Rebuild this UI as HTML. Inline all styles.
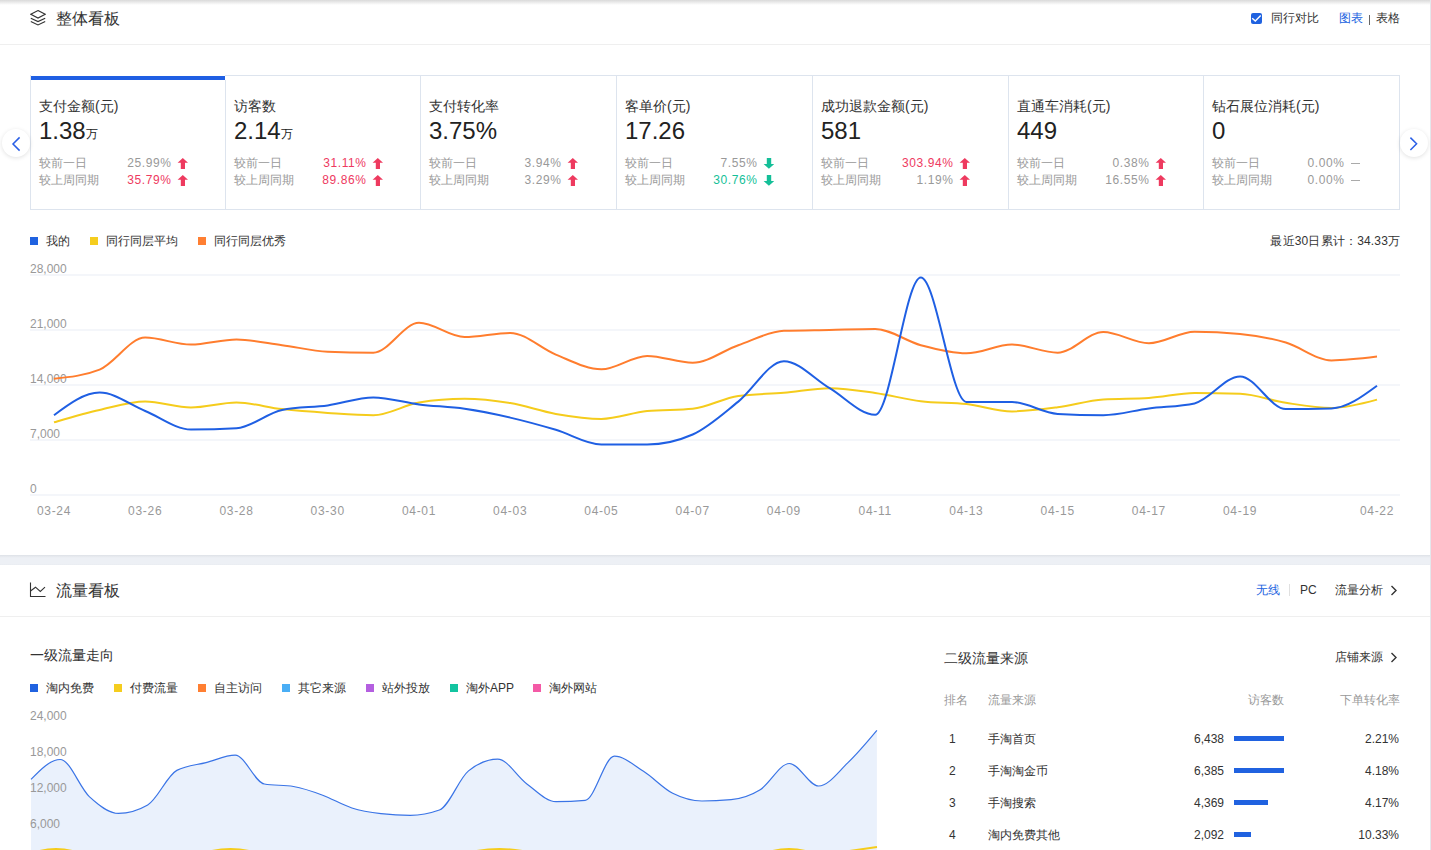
<!DOCTYPE html>
<html><head><meta charset="utf-8">
<style>
*{margin:0;padding:0;box-sizing:border-box}
html,body{width:1431px;height:850px;overflow:hidden;background:#fff;font-family:"Liberation Sans",sans-serif;color:#333;position:relative}
.a{position:absolute;white-space:nowrap}
.t12{font-size:12px;line-height:12px}
.t14{font-size:14px;line-height:14px}
.t16{font-size:16px;line-height:16px}
.gray{color:#999}
.blue{color:#2062e0}
.hline{position:absolute;left:0;width:1430px;height:1px;background:#efefef}
.card{position:absolute;top:75px;height:135px;width:195px}
.card .ttl{position:absolute;left:9px;top:24px;font-size:14px;line-height:14px;color:#333}
.card .val{position:absolute;left:9px;top:44px;font-size:24px;line-height:24px;color:#222}
.card .val span{font-size:12px;position:relative;top:-1.5px;margin-left:0px}
.card .r1,.card .r2{position:absolute;left:9px;font-size:12px;line-height:12px;color:#999}
.card .r1{top:82px}.card .r2{top:99px}
.card .p1,.card .p2{position:absolute;left:0;width:141.6px;letter-spacing:0.6px;font-size:12px;line-height:12px;color:#999;text-align:right}
.card .p1{top:82px}.card .p2{top:99px}
.red{color:#ee3a5f!important}
.grn{color:#14bf98!important}
.arr{position:absolute;left:147px;width:11px;height:11px}
.leg{position:absolute;width:8px;height:8px}
.circ{position:absolute;width:28px;height:28px;border-radius:50%;background:#fff;box-shadow:0 1px 4px rgba(0,0,0,0.12)}
</style></head><body>
<!-- top shadow -->
<div class="a" style="left:0;top:0;width:1431px;height:5px;background:linear-gradient(#dadada,rgba(255,255,255,0))"></div>
<!-- right edge line -->
<div class="a" style="left:1430px;top:0;width:1px;height:850px;background:#e4e7ec"></div>

<!-- ===== Section 1 header ===== -->
<svg class="a" style="left:30px;top:10px" width="16" height="16" viewBox="0 0 16 16" fill="none" stroke="#333" stroke-width="1.15">
<path d="M8 0.6 L15.2 4.3 L8 8 L0.8 4.3 Z"/><path d="M0.8 8.2 L8 11.6 L15.2 8.2"/><path d="M0.8 11.4 L8 14.9 L15.2 11.4"/>
</svg>
<div class="a t16" style="left:56px;top:11px;color:#333">整体看板</div>
<div class="a" style="left:1251px;top:13px;width:11px;height:11px;background:#2062e0;border-radius:2px">
<svg width="11" height="11" viewBox="0 0 11 11" style="display:block"><path d="M1.2 5.2 L4.3 8.1 L9.7 2.6" fill="none" stroke="#fff" stroke-width="1.4"/></svg></div>
<div class="a t12" style="left:1271px;top:12px">同行对比</div>
<div class="a t12 blue" style="left:1339px;top:12px">图表</div>
<div class="a" style="left:1369px;top:15px;width:1px;height:10px;background:#666"></div>
<div class="a t12" style="left:1376px;top:12px">表格</div>
<div class="hline" style="top:44px"></div>

<!-- ===== KPI cards ===== -->
<div class="a" style="left:30px;top:75px;width:1370px;height:135px;border:1px solid #dde4ee"></div>
<div class="a" style="left:31px;top:75px;width:194px;height:5px;background:#fff"></div>
<div class="a" style="left:31px;top:76px;width:194px;height:4px;background:#1f5fe3"></div>
<div class="a" style="left:225px;top:80px;width:1px;height:130px;background:#dde4ee"></div>
<div class="a" style="left:420px;top:75px;width:1px;height:135px;background:#dde4ee"></div>
<div class="a" style="left:616px;top:75px;width:1px;height:135px;background:#dde4ee"></div>
<div class="a" style="left:812px;top:75px;width:1px;height:135px;background:#dde4ee"></div>
<div class="a" style="left:1008px;top:75px;width:1px;height:135px;background:#dde4ee"></div>
<div class="a" style="left:1203px;top:75px;width:1px;height:135px;background:#dde4ee"></div>
<div class="card" style="left:30px"><div class="ttl">支付金额(元)</div><div class="val">1.38<span>万</span></div><div class="r1">较前一日</div><div class="r2">较上周同期</div><div class="p1 ">25.99%</div><div class="p2 red">35.79%</div><svg class="arr" style="top:83px" viewBox="0 0 11 11"><path d="M5.8 0 L11 4.7 L8 4.7 L8 11 L3.8 11 L3.8 4.7 L0.6 4.7 Z" fill="#ee3a5f"/></svg><svg class="arr" style="top:100px" viewBox="0 0 11 11"><path d="M5.8 0 L11 4.7 L8 4.7 L8 11 L3.8 11 L3.8 4.7 L0.6 4.7 Z" fill="#ee3a5f"/></svg></div>
<div class="card" style="left:225px"><div class="ttl">访客数</div><div class="val">2.14<span>万</span></div><div class="r1">较前一日</div><div class="r2">较上周同期</div><div class="p1 red">31.11%</div><div class="p2 red">89.86%</div><svg class="arr" style="top:83px" viewBox="0 0 11 11"><path d="M5.8 0 L11 4.7 L8 4.7 L8 11 L3.8 11 L3.8 4.7 L0.6 4.7 Z" fill="#ee3a5f"/></svg><svg class="arr" style="top:100px" viewBox="0 0 11 11"><path d="M5.8 0 L11 4.7 L8 4.7 L8 11 L3.8 11 L3.8 4.7 L0.6 4.7 Z" fill="#ee3a5f"/></svg></div>
<div class="card" style="left:420px"><div class="ttl">支付转化率</div><div class="val">3.75%</div><div class="r1">较前一日</div><div class="r2">较上周同期</div><div class="p1 ">3.94%</div><div class="p2 ">3.29%</div><svg class="arr" style="top:83px" viewBox="0 0 11 11"><path d="M5.8 0 L11 4.7 L8 4.7 L8 11 L3.8 11 L3.8 4.7 L0.6 4.7 Z" fill="#ee3a5f"/></svg><svg class="arr" style="top:100px" viewBox="0 0 11 11"><path d="M5.8 0 L11 4.7 L8 4.7 L8 11 L3.8 11 L3.8 4.7 L0.6 4.7 Z" fill="#ee3a5f"/></svg></div>
<div class="card" style="left:616px"><div class="ttl">客单价(元)</div><div class="val">17.26</div><div class="r1">较前一日</div><div class="r2">较上周同期</div><div class="p1 ">7.55%</div><div class="p2 grn">30.76%</div><svg class="arr" style="top:83px" viewBox="0 0 11 11"><path d="M3.8 0 L8.2 0 L8.2 6 L11.2 6 L5.9 10.8 L0.6 6 L3.8 6 Z" fill="#14bf98"/></svg><svg class="arr" style="top:100px" viewBox="0 0 11 11"><path d="M3.8 0 L8.2 0 L8.2 6 L11.2 6 L5.9 10.8 L0.6 6 L3.8 6 Z" fill="#14bf98"/></svg></div>
<div class="card" style="left:812px"><div class="ttl">成功退款金额(元)</div><div class="val">581</div><div class="r1">较前一日</div><div class="r2">较上周同期</div><div class="p1 red">303.94%</div><div class="p2 ">1.19%</div><svg class="arr" style="top:83px" viewBox="0 0 11 11"><path d="M5.8 0 L11 4.7 L8 4.7 L8 11 L3.8 11 L3.8 4.7 L0.6 4.7 Z" fill="#ee3a5f"/></svg><svg class="arr" style="top:100px" viewBox="0 0 11 11"><path d="M5.8 0 L11 4.7 L8 4.7 L8 11 L3.8 11 L3.8 4.7 L0.6 4.7 Z" fill="#ee3a5f"/></svg></div>
<div class="card" style="left:1008px"><div class="ttl">直通车消耗(元)</div><div class="val">449</div><div class="r1">较前一日</div><div class="r2">较上周同期</div><div class="p1 ">0.38%</div><div class="p2 ">16.55%</div><svg class="arr" style="top:83px" viewBox="0 0 11 11"><path d="M5.8 0 L11 4.7 L8 4.7 L8 11 L3.8 11 L3.8 4.7 L0.6 4.7 Z" fill="#ee3a5f"/></svg><svg class="arr" style="top:100px" viewBox="0 0 11 11"><path d="M5.8 0 L11 4.7 L8 4.7 L8 11 L3.8 11 L3.8 4.7 L0.6 4.7 Z" fill="#ee3a5f"/></svg></div>
<div class="card" style="left:1203px"><div class="ttl">钻石展位消耗(元)</div><div class="val">0</div><div class="r1">较前一日</div><div class="r2">较上周同期</div><div class="p1 ">0.00%</div><div class="p2 ">0.00%</div><div class="a" style="left:148px;top:88px;width:9px;height:1px;background:#aaa"></div><div class="a" style="left:148px;top:105px;width:9px;height:1px;background:#aaa"></div></div>

<div class="circ" style="left:2px;top:129px"><svg width="28" height="28" viewBox="0 0 28 28"><path d="M17.6 8.4 L11 15 L17.6 21.6" fill="none" stroke="#2a5fe6" stroke-width="1.5"/></svg></div>
<div class="circ" style="left:1400px;top:129px"><svg width="28" height="28" viewBox="0 0 28 28"><path d="M10.4 8.6 L16.6 14.8 L10.4 21" fill="none" stroke="#2a5fe6" stroke-width="1.5"/></svg></div>

<!-- ===== Chart 1 legend ===== -->
<div class="leg" style="left:30px;top:237px;background:#2062e0"></div>
<div class="a t12" style="left:46px;top:235px">我的</div>
<div class="leg" style="left:90px;top:237px;background:#f5cd1e"></div>
<div class="a t12" style="left:106px;top:235px">同行同层平均</div>
<div class="leg" style="left:198px;top:237px;background:#ff7f32"></div>
<div class="a t12" style="left:214px;top:235px">同行同层优秀</div>
<div class="a t12" style="right:30.8px;top:235px;letter-spacing:0.17px">最近30日累计：34.33万</div>

<!-- ===== Chart 1 ===== -->
<svg class="a" style="left:0;top:0" width="1431" height="560" viewBox="0 0 1431 560">
<g stroke="#e9edf5" stroke-width="1">
<path d="M30 275H1400M30 330H1400M30 385H1400M30 440H1400M30 495H1400"/>
</g>
<g font-family="Liberation Sans" font-size="12" fill="#999">
<text x="30" y="273">28,000</text>
<text x="30" y="328">21,000</text>
<text x="30" y="383">14,000</text>
<text x="30" y="438">7,000</text>
<text x="30" y="493">0</text>
</g>
<g font-family="Liberation Sans" font-size="12" fill="#999" text-anchor="middle" letter-spacing="0.7">
<text x="54.0" y="515">03-24</text>
<text x="145.2" y="515">03-26</text>
<text x="236.5" y="515">03-28</text>
<text x="327.7" y="515">03-30</text>
<text x="419.0" y="515">04-01</text>
<text x="510.2" y="515">04-03</text>
<text x="601.4" y="515">04-05</text>
<text x="692.7" y="515">04-07</text>
<text x="783.9" y="515">04-09</text>
<text x="875.2" y="515">04-11</text>
<text x="966.4" y="515">04-13</text>
<text x="1057.7" y="515">04-15</text>
<text x="1148.9" y="515">04-17</text>
<text x="1240.1" y="515">04-19</text>
<text x="1377.0" y="515">04-22</text>
</g>
<path d="M54.0,378.7 C69.2,377.2 84.4,375.7 99.6,369.6 C114.8,363.5 130.0,337.6 145.2,337.6 C160.4,337.6 175.7,344.6 190.9,344.6 C206.1,344.6 221.3,339.5 236.5,339.5 C251.7,339.5 266.9,343.2 282.1,345.2 C297.3,347.2 312.5,351.0 327.7,351.7 C342.9,352.4 358.1,352.7 373.3,352.7 C388.6,352.7 403.8,322.8 419.0,322.8 C434.2,322.8 449.4,337.1 464.6,337.1 C479.8,337.1 495.0,332.9 510.2,332.9 C525.4,332.9 540.6,348.5 555.8,354.6 C571.0,360.7 586.2,369.3 601.4,369.3 C616.7,369.3 631.9,355.9 647.1,355.9 C662.3,355.9 677.5,362.7 692.7,362.7 C707.9,362.7 723.1,350.5 738.3,345.2 C753.5,339.9 768.7,331.4 783.9,330.8 C799.1,330.2 814.3,330.2 829.6,329.9 C844.8,329.6 860.0,329.0 875.2,329.0 C890.4,329.0 905.6,341.1 920.8,345.2 C936.0,349.2 951.2,353.3 966.4,353.3 C981.6,353.3 996.8,344.6 1012.0,344.6 C1027.2,344.6 1042.4,352.7 1057.7,352.7 C1072.9,352.7 1088.1,332.0 1103.3,332.0 C1118.5,332.0 1133.7,343.2 1148.9,343.2 C1164.1,343.2 1179.3,331.7 1194.5,331.7 C1209.7,331.7 1224.9,332.5 1240.1,334.0 C1255.3,335.5 1270.6,338.1 1285.8,342.5 C1301.0,346.9 1316.2,360.4 1331.4,360.4 C1346.6,360.4 1361.8,358.5 1377.0,356.6" fill="none" stroke="#ff7d2e" stroke-width="2"/>
<path d="M54.0,422.3 C69.2,417.9 84.4,413.4 99.6,410.0 C114.8,406.6 130.0,401.6 145.2,401.6 C160.4,401.6 175.7,407.6 190.9,407.6 C206.1,407.6 221.3,402.6 236.5,402.6 C251.7,402.6 266.9,407.4 282.1,409.1 C297.3,410.8 312.5,411.9 327.7,412.9 C342.9,413.9 358.1,415.2 373.3,415.2 C388.6,415.2 403.8,405.0 419.0,402.5 C434.2,400.0 449.4,398.8 464.6,398.8 C479.8,398.8 495.0,400.6 510.2,403.1 C525.4,405.6 540.6,411.3 555.8,413.9 C571.0,416.5 586.2,418.9 601.4,418.9 C616.7,418.9 631.9,412.5 647.1,411.0 C662.3,409.5 677.5,410.3 692.7,408.8 C707.9,407.3 723.1,398.1 738.3,396.0 C753.5,393.9 768.7,394.1 783.9,392.8 C799.1,391.5 814.3,388.2 829.6,388.2 C844.8,388.2 860.0,390.8 875.2,393.0 C890.4,395.2 905.6,399.3 920.8,401.2 C936.0,403.1 951.2,402.4 966.4,404.1 C981.6,405.8 996.8,411.4 1012.0,411.4 C1027.2,411.4 1042.4,409.3 1057.7,407.3 C1072.9,405.3 1088.1,400.3 1103.3,399.4 C1118.5,398.5 1133.7,398.9 1148.9,398.0 C1164.1,397.1 1179.3,393.0 1194.5,393.0 C1209.7,393.0 1224.9,393.3 1240.1,393.8 C1255.3,394.3 1270.6,400.5 1285.8,402.8 C1301.0,405.1 1316.2,407.9 1331.4,407.9 C1346.6,407.9 1361.8,403.8 1377.0,399.6" fill="none" stroke="#f5cc1c" stroke-width="2"/>
<path d="M54.0,415.2 C69.2,403.9 84.4,392.6 99.6,392.6 C114.8,392.6 130.0,404.9 145.2,411.0 C160.4,417.1 175.7,429.5 190.9,429.5 C206.1,429.5 221.3,429.1 236.5,428.2 C251.7,427.3 266.9,413.1 282.1,410.0 C297.3,406.9 312.5,407.5 327.7,405.4 C342.9,403.3 358.1,397.5 373.3,397.5 C388.6,397.5 403.8,402.5 419.0,404.4 C434.2,406.3 449.4,406.6 464.6,408.8 C479.8,411.0 495.0,414.1 510.2,417.6 C525.4,421.1 540.6,425.3 555.8,429.8 C571.0,434.3 586.2,444.5 601.4,444.5 C616.7,444.5 631.9,444.5 647.1,444.5 C662.3,444.5 677.5,441.2 692.7,434.5 C707.9,427.8 723.1,413.8 738.3,401.6 C753.5,389.4 768.7,361.2 783.9,361.2 C799.1,361.2 814.3,379.3 829.6,388.2 C844.8,397.1 860.0,414.8 875.2,414.8 C890.4,414.8 905.6,277.6 920.8,277.6 C936.0,277.6 951.2,402.0 966.4,402.0 C981.6,402.0 996.8,402.0 1012.0,402.0 C1027.2,402.0 1042.4,413.0 1057.7,413.9 C1072.9,414.8 1088.1,415.2 1103.3,415.2 C1118.5,415.2 1133.7,410.4 1148.9,408.4 C1164.1,406.4 1179.3,406.7 1194.5,403.4 C1209.7,400.1 1224.9,376.4 1240.1,376.4 C1255.3,376.4 1270.6,409.0 1285.8,409.0 C1301.0,409.0 1316.2,408.8 1331.4,408.5 C1346.6,408.2 1361.8,397.0 1377.0,385.8" fill="none" stroke="#1f5fe3" stroke-width="2"/>
</svg>

<!-- gray band -->
<div class="a" style="left:0;top:555px;width:1430px;height:10px;background:linear-gradient(#dde1e7 0px,#e4e7ec 1px,#e9ecf1 2px,#edf0f5 3px,#edf0f5 9px,#e8ebf0 10px)"></div>

<!-- ===== Section 2 header ===== -->
<svg class="a" style="left:29px;top:582px" width="17" height="15" viewBox="0 0 17 15" fill="none" stroke="#333" stroke-width="1.1">
<path d="M1.5 0.5 V14.5 H16.5"/><path d="M1.5 9 L6.5 5.2 L11.3 9.4 L16 5.2"/>
</svg>
<div class="a t16" style="left:56px;top:583px">流量看板</div>
<div class="a t12 blue" style="left:1256px;top:584px">无线</div>
<div class="a" style="left:1289px;top:584px;width:1px;height:12px;background:#e0e0e0"></div>
<div class="a t12" style="left:1300px;top:584px">PC</div>
<div class="a t12" style="left:1335px;top:584px">流量分析</div>
<svg class="a" style="left:1390px;top:585px" width="8" height="11" viewBox="0 0 8 11"><path d="M1.5 1 L6 5.5 L1.5 10" fill="none" stroke="#333" stroke-width="1.4"/></svg>
<div class="hline" style="top:616px"></div>

<!-- ===== Flow chart ===== -->
<div class="a t14" style="left:30px;top:648px">一级流量走向</div>
<div class="leg" style="left:30px;top:684px;background:#2062e0"></div><div class="a t12" style="left:46px;top:682px">淘内免费</div>
<div class="leg" style="left:114px;top:684px;background:#f5cd1e"></div><div class="a t12" style="left:130px;top:682px">付费流量</div>
<div class="leg" style="left:198px;top:684px;background:#ff7f32"></div><div class="a t12" style="left:214px;top:682px">自主访问</div>
<div class="leg" style="left:282px;top:684px;background:#4aaef5"></div><div class="a t12" style="left:298px;top:682px">其它来源</div>
<div class="leg" style="left:366px;top:684px;background:#b45fe0"></div><div class="a t12" style="left:382px;top:682px">站外投放</div>
<div class="leg" style="left:450px;top:684px;background:#12c4a0"></div><div class="a t12" style="left:466px;top:682px">淘外APP</div>
<div class="leg" style="left:533px;top:684px;background:#f45aa6"></div><div class="a t12" style="left:549px;top:682px">淘外网站</div>
<svg class="a" style="left:0;top:600px" width="920" height="250" viewBox="0 600 920 250">
<path d="M31.0,779.4 C40.7,769.4 50.4,759.5 60.2,759.5 C69.9,759.5 79.6,787.6 89.3,796.6 C99.1,805.6 108.8,813.4 118.5,813.4 C128.2,813.4 138.0,810.6 147.7,805.0 C157.4,799.4 167.1,775.6 176.8,770.4 C186.6,765.2 196.3,765.1 206.0,762.6 C215.7,760.1 225.5,755.1 235.2,755.1 C244.9,755.1 254.6,782.3 264.4,784.0 C274.1,785.7 283.8,784.8 293.5,786.5 C303.2,788.2 313.0,791.6 322.7,795.2 C332.4,798.8 342.1,804.9 351.9,808.0 C361.6,811.1 371.3,812.5 381.0,813.6 C390.8,814.7 400.5,815.3 410.2,815.3 C419.9,815.3 429.6,813.5 439.4,810.0 C449.1,806.5 458.8,778.8 468.5,770.9 C478.3,763.0 488.0,759.1 497.7,759.1 C507.4,759.1 517.1,776.8 526.9,783.9 C536.6,791.0 546.3,801.7 556.0,801.7 C565.8,801.7 575.5,801.3 585.2,800.4 C594.9,799.5 604.7,756.2 614.4,756.2 C624.1,756.2 633.8,765.1 643.5,771.3 C653.3,777.5 663.0,788.3 672.7,793.3 C682.4,798.2 692.2,801.0 701.9,801.0 C711.6,801.0 721.3,800.5 731.1,799.6 C740.8,798.7 750.5,795.7 760.2,789.7 C769.9,783.7 779.7,763.5 789.4,763.5 C799.1,763.5 808.8,786.0 818.6,786.0 C828.3,786.0 838.0,772.2 847.7,762.9 C857.5,753.6 867.2,742.0 876.9,730.4 L 876.9,850 L31,850 Z" fill="#eaf1fc" stroke="none"/>
<path d="M31.0,779.4 C40.7,769.4 50.4,759.5 60.2,759.5 C69.9,759.5 79.6,787.6 89.3,796.6 C99.1,805.6 108.8,813.4 118.5,813.4 C128.2,813.4 138.0,810.6 147.7,805.0 C157.4,799.4 167.1,775.6 176.8,770.4 C186.6,765.2 196.3,765.1 206.0,762.6 C215.7,760.1 225.5,755.1 235.2,755.1 C244.9,755.1 254.6,782.3 264.4,784.0 C274.1,785.7 283.8,784.8 293.5,786.5 C303.2,788.2 313.0,791.6 322.7,795.2 C332.4,798.8 342.1,804.9 351.9,808.0 C361.6,811.1 371.3,812.5 381.0,813.6 C390.8,814.7 400.5,815.3 410.2,815.3 C419.9,815.3 429.6,813.5 439.4,810.0 C449.1,806.5 458.8,778.8 468.5,770.9 C478.3,763.0 488.0,759.1 497.7,759.1 C507.4,759.1 517.1,776.8 526.9,783.9 C536.6,791.0 546.3,801.7 556.0,801.7 C565.8,801.7 575.5,801.3 585.2,800.4 C594.9,799.5 604.7,756.2 614.4,756.2 C624.1,756.2 633.8,765.1 643.5,771.3 C653.3,777.5 663.0,788.3 672.7,793.3 C682.4,798.2 692.2,801.0 701.9,801.0 C711.6,801.0 721.3,800.5 731.1,799.6 C740.8,798.7 750.5,795.7 760.2,789.7 C769.9,783.7 779.7,763.5 789.4,763.5 C799.1,763.5 808.8,786.0 818.6,786.0 C828.3,786.0 838.0,772.2 847.7,762.9 C857.5,753.6 867.2,742.0 876.9,730.4" fill="none" stroke="#3a74e6" stroke-width="1.2"/>
<path d="M36.0 852 Q56.0 846 76.0 852 M207.8 852 Q230.5 846 253.2 852 M471.5 852 Q499.5 846 527.5 852 M769.0 852 Q789.0 846 809.0 852 M846 851.5 Q860 849.5 877 847" fill="none" stroke="#f5cc1c" stroke-width="2"/>
<g font-family="Liberation Sans" font-size="12" fill="#999">
<text x="30" y="720">24,000</text>
<text x="30" y="756">18,000</text>
<text x="30" y="792">12,000</text>
<text x="30" y="828">6,000</text>
</g>
</svg>

<!-- ===== Table ===== -->
<div class="a t14" style="left:944px;top:651px">二级流量来源</div>
<div class="a t12" style="left:1335px;top:651px">店铺来源</div>
<svg class="a" style="left:1390px;top:652px" width="8" height="11" viewBox="0 0 8 11"><path d="M1.5 1 L6 5.5 L1.5 10" fill="none" stroke="#333" stroke-width="1.4"/></svg>
<div class="a t12 gray" style="left:944px;top:694px">排名</div>
<div class="a t12 gray" style="left:988px;top:694px">流量来源</div>
<div class="a t12 gray" style="left:1248px;top:694px">访客数</div>
<div class="a t12 gray" style="left:1340px;top:694px">下单转化率</div>
<div class="a t12" style="left:949px;top:733px">1</div><div class="a t12" style="left:988px;top:733px">手淘首页</div><div class="a t12" style="right:207px;top:733px">6,438</div><div class="a" style="left:1234px;top:736px;width:50px;height:5px;background:#2062e0"></div><div class="a t12" style="right:32px;top:733px">2.21%</div>
<div class="a t12" style="left:949px;top:765px">2</div><div class="a t12" style="left:988px;top:765px">手淘淘金币</div><div class="a t12" style="right:207px;top:765px">6,385</div><div class="a" style="left:1234px;top:768px;width:50px;height:5px;background:#2062e0"></div><div class="a t12" style="right:32px;top:765px">4.18%</div>
<div class="a t12" style="left:949px;top:797px">3</div><div class="a t12" style="left:988px;top:797px">手淘搜索</div><div class="a t12" style="right:207px;top:797px">4,369</div><div class="a" style="left:1234px;top:800px;width:34px;height:5px;background:#2062e0"></div><div class="a t12" style="right:32px;top:797px">4.17%</div>
<div class="a t12" style="left:949px;top:829px">4</div><div class="a t12" style="left:988px;top:829px">淘内免费其他</div><div class="a t12" style="right:207px;top:829px">2,092</div><div class="a" style="left:1234px;top:832px;width:17px;height:5px;background:#2062e0"></div><div class="a t12" style="right:32px;top:829px">10.33%</div>
</body></html>
